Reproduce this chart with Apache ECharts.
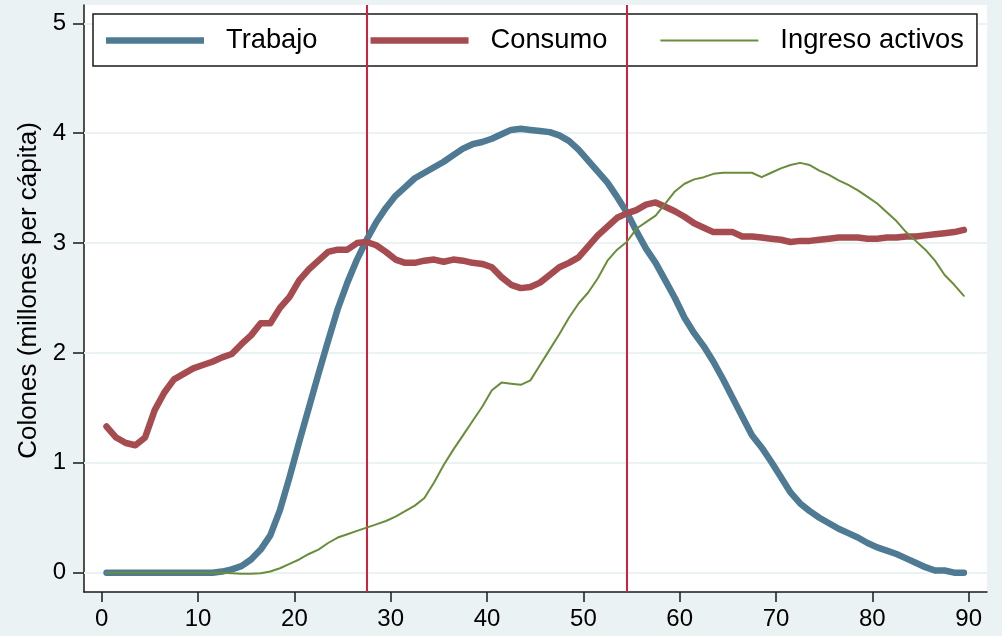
<!DOCTYPE html>
<html>
<head>
<meta charset="utf-8">
<script src="https://cdn.jsdelivr.net/npm/echarts@6/dist/echarts.min.js"></script>
<style>
html,body{margin:0;padding:0;background:#eaf2f3;}
#chart{width:1002px;height:636px;}
</style>
</head>
<body>
<div id="chart"></div>
<script>
const ages = [0.5,1.5,2.5,3.5,4.5,5.5,6.5,7.5,8.5,9.5,10.5,11.5,12.5,13.5,14.5,15.5,16.5,17.5,18.5,19.5,
  20.5,21.5,22.5,23.5,24.5,25.5,26.5,27.5,28.5,29.5,30.5,31.5,32.5,33.5,34.5,35.5,36.5,37.5,38.5,39.5,
  40.5,41.5,42.5,43.5,44.5,45.5,46.5,47.5,48.5,49.5,50.5,51.5,52.5,53.5,54.5,55.5,56.5,57.5,58.5,59.5,
  60.5,61.5,62.5,63.5,64.5,65.5,66.5,67.5,68.5,69.5,70.5,71.5,72.5,73.5,74.5,75.5,76.5,77.5,78.5,79.5,
  80.5,81.5,82.5,83.5,84.5,85.5,86.5,87.5,88.5,89.5];

const trabajo = [0,0,0,0,0,0,0,0,0,0,0,0,0.01,0.03,0.06,0.12,0.21,0.34,0.57,0.87,
  1.19,1.50,1.81,2.11,2.40,2.64,2.85,3.03,3.19,3.32,3.43,3.51,3.59,3.64,3.69,3.74,3.80,3.86,3.90,3.92,
  3.95,3.99,4.03,4.04,4.03,4.02,4.01,3.98,3.93,3.85,3.75,3.65,3.55,3.42,3.28,3.11,2.95,2.82,2.66,2.50,
  2.32,2.18,2.06,1.92,1.76,1.59,1.42,1.25,1.14,1.01,0.87,0.73,0.63,0.56,0.50,0.45,0.40,0.36,0.32,0.27,
  0.23,0.20,0.17,0.13,0.09,0.05,0.02,0.02,0.00,0.00];

const consumo = [1.33,1.23,1.18,1.16,1.23,1.48,1.64,1.76,1.81,1.86,1.89,1.92,1.96,1.99,2.08,2.16,2.27,2.27,2.41,2.51,
  2.66,2.76,2.84,2.92,2.94,2.94,3.00,3.01,2.98,2.92,2.85,2.82,2.82,2.84,2.85,2.83,2.85,2.84,2.82,2.81,
  2.78,2.69,2.62,2.59,2.60,2.64,2.71,2.78,2.82,2.87,2.97,3.07,3.15,3.23,3.27,3.30,3.35,3.37,3.33,3.29,
  3.24,3.18,3.14,3.10,3.10,3.10,3.06,3.06,3.05,3.04,3.03,3.01,3.02,3.02,3.03,3.04,3.05,3.05,3.05,3.04,
  3.04,3.05,3.05,3.06,3.06,3.07,3.08,3.09,3.10,3.12];

const ingreso = [0,0,0,0,0,0,0,0,0,0,0,0,0,-0.005,-0.01,-0.01,-0.005,0.01,0.04,0.08,
  0.12,0.17,0.21,0.27,0.32,0.35,0.38,0.41,0.44,0.47,0.51,0.56,0.61,0.68,0.82,0.98,1.12,1.25,1.38,1.51,
  1.66,1.73,1.72,1.71,1.75,1.89,2.03,2.17,2.32,2.45,2.55,2.68,2.84,2.94,3.01,3.13,3.19,3.25,3.36,3.47,
  3.54,3.58,3.60,3.63,3.64,3.64,3.64,3.64,3.60,3.64,3.68,3.71,3.73,3.71,3.66,3.62,3.57,3.53,3.48,3.42,
  3.36,3.28,3.20,3.10,3.02,2.94,2.84,2.71,2.62,2.52];

const seriesNames = ['Trabajo', 'Consumo', 'Ingreso activos'];
const seriesColors = ['#4f7a94', '#a64b50', '#6a8d3c'];
const seriesWidths = [6.5, 6.5, 2];
const xTicks = [0,10,20,30,40,50,60,70,80,90];
const yTicks = [0,1,2,3,4,5];
const vLines = [27.5, 54.5];
const yTitle = 'Colones (millones per cápita)';

const font = '"Liberation Sans", Arial, Helvetica, sans-serif';
const pair = (ys) => ages.map((a, i) => [a, ys[i]]);
const keyIcon = (w) => 'path://M0,0L98,0L98,' + w + 'L0,' + w + 'Z';

const chart = echarts.init(document.getElementById('chart'), null, {renderer: 'canvas'});
chart.setOption({
  backgroundColor: '#eaf2f3',
  animation: false,
  textStyle: {fontFamily: font},
  grid: {left: 84, right: 15, top: 5, bottom: 44, show: true, backgroundColor: '#ffffff', borderWidth: 0},
  xAxis: {
    type: 'value', min: -1.84, max: 91.9,
    axisLine: {show: true, onZero: false, lineStyle: {color: '#1a1a1a', width: 1.5}},
    axisTick: {show: true, length: 10, customValues: xTicks, lineStyle: {color: '#1a1a1a', width: 1.5}},
    axisLabel: {customValues: xTicks, fontSize: 24, color: '#000', margin: 15, fontFamily: font},
    splitLine: {show: false}
  },
  yAxis: {
    type: 'value', min: -0.176, max: 5.167,
    name: yTitle, nameLocation: 'middle', nameRotate: 90, nameGap: 42,
    nameTextStyle: {fontSize: 26, color: '#000', fontFamily: font, padding: [0, 0, 0, 16]},
    axisLine: {show: true, onZero: false, lineStyle: {color: '#1a1a1a', width: 1.5}},
    axisTick: {show: true, length: 11, customValues: yTicks, lineStyle: {color: '#1a1a1a', width: 1.5}},
    axisLabel: {customValues: yTicks, fontSize: 24, color: '#000', margin: 18, fontFamily: font},
    splitLine: {show: false}
  },
  legend: {
    data: seriesNames.map((n, i) => ({
      name: n,
      icon: keyIcon(seriesWidths[i]),
      itemStyle: {color: seriesColors[i], borderWidth: 0}
    })),
    left: 93, top: 14,
    padding: [13, 13, 12, 13],
    itemWidth: 98, itemHeight: 14, itemGap: 53,
    backgroundColor: '#ffffff', borderColor: '#1a1a1a', borderWidth: 1.5, borderRadius: 0,
    textStyle: {fontSize: 27.3, color: '#000', fontFamily: font, padding: [0, 0, 0, 17]},
    selectedMode: false
  },
  series: [
    {
      name: '_grid', type: 'line', data: [], silent: true, z: 1,
      markLine: {
        silent: true, symbol: 'none', z: 1, label: {show: false},
        lineStyle: {color: '#eaf2f3', width: 2, type: 'solid'},
        data: yTicks.map(v => ({yAxis: v}))
      }
    },
    {
      name: '_vlines', type: 'line', data: [], silent: true, z: 5,
      markLine: {
        silent: true, symbol: 'none', z: 5, label: {show: false},
        lineStyle: {color: '#d1213f', width: 2, type: 'solid'},
        data: vLines.map(v => ({xAxis: v}))
      }
    },
    ...[trabajo, consumo, ingreso].map((ys, i) => ({
      name: seriesNames[i], type: 'line', data: pair(ys), symbol: 'none', z: 6,
      lineStyle: {color: seriesColors[i], width: seriesWidths[i], cap: 'round', join: 'round'},
      itemStyle: {color: seriesColors[i]}
    }))
  ]
});
</script>
</body>
</html>
